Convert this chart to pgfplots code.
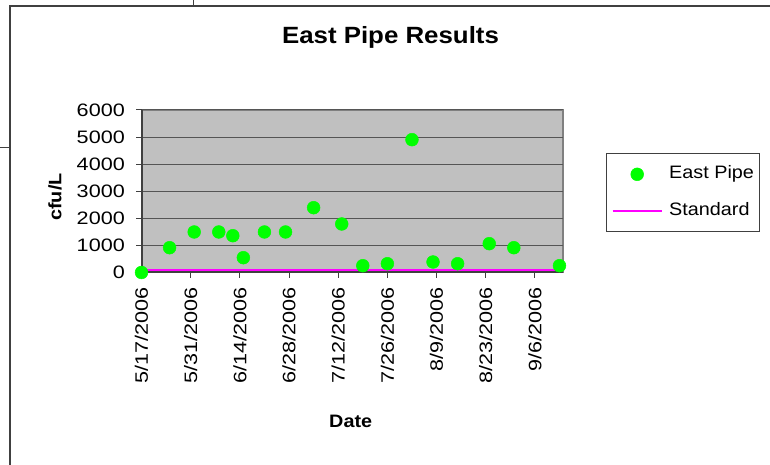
\documentclass[border=0pt]{standalone}
\usepackage{pgfplots}
\pgfplotsset{compat=1.18}
\usepackage{fontspec}
\setmainfont{Liberation Sans}[FakeStretch=1.1]
\newfontfamily\tickfont{Liberation Sans}[FakeStretch=1.2]
\definecolor{plotbg}{HTML}{C0C0C0}
\definecolor{gridc}{HTML}{555555}
\definecolor{axc}{HTML}{404040}
\definecolor{framec}{HTML}{808080}
\definecolor{ptgreen}{HTML}{00FF00}
\definecolor{stdpink}{HTML}{FF00FF}
\pgfplotsset{
  stdleg/.style={legend image code/.code={\draw[##1] (0pt,0pt) -- (49pt,0pt);}},
  ptleg/.style={legend image code/.code={\draw[mark repeat=2,mark phase=2,##1] plot coordinates {(0pt,0pt) (24.5pt,0pt) (49pt,0pt)};}},
}
\pgfplotstableread{
day value
0 0
8 916
15 1496
22 1496
26 1359
29 547
35 1496
41 1496
49 2393
57 1791
63 251
70 325
77 4904
83 388
90 325
99 1064
106 916
119 251
}\eastpipe
\pgfplotstableread{
day value
0 100
120 100
}\standard
\begin{document}
\begin{tikzpicture}[font=\fontsize{18}{21}\selectfont]
\useasboundingbox (0pt,0pt) rectangle (770pt,465pt);
\draw[axc, line width=1.5pt] (10pt,0pt) -- (10pt,459pt) -- (770pt,459pt);
\draw[axc, line width=1pt] (193pt,459pt) -- (193pt,465pt);
\draw[axc, line width=1pt] (0pt,317pt) -- (10pt,317pt);
\node[font=\bfseries\fontsize{23.5}{26}\selectfont] at (390.5pt,428pt) {East Pipe Results};
\node[font=\bfseries\fontsize{18}{21}\selectfont, rotate=90] at (55pt,268pt) {cfu/L};
\node[font=\bfseries\fontsize{18}{21}\selectfont] at (350.7pt,43.3pt) {Date};
\begin{axis}[
  at={(141.5pt,192.5pt)}, anchor=south west,
  width=421.5pt, height=162.5pt, scale only axis,
  xmin=0, xmax=120, ymin=0, ymax=6000,
  clip=false,
  axis background/.style={fill=plotbg, draw=framec, line width=2pt},
  axis x line*=bottom, axis y line*=left,
  axis line style={-, axc, line width=2pt},
  ytick={0,1000,...,6000},
  xtick={0,14,...,112},
  xticklabels={5/17/2006,5/31/2006,6/14/2006,6/28/2006,7/12/2006,7/26/2006,8/9/2006,8/23/2006,9/6/2006},
  scaled y ticks=false,
  /pgf/number format/.cd, 1000 sep={}, assume math mode=true, /pgfplots/.cd,
  tick align=outside, major tick length=5.5pt,
  tick style={axc, line width=1pt},
  xtick pos=bottom, ytick pos=left,
  ymajorgrids, major grid style={gridc, line width=1pt},
  ticklabel style={font=\tickfont\fontsize{18}{21}\selectfont},
  yticklabel style={anchor=east, inner sep=0pt},
  yticklabel shift=11pt,
  xticklabel style={rotate=90, anchor=east, inner sep=0pt},
  xticklabel shift=9pt,
  reverse legend,
  legend style={at={(1.1013,0.7335)}, anchor=north west, draw=axc, line width=1pt, fill=white,
    inner xsep=5.5pt, inner ysep=12pt, row sep=20pt, column sep=6.5pt,
    font=\fontsize{18}{21}\selectfont,
    nodes={inner sep=0pt, text height=13pt, text depth=4pt}},
  legend cell align=left,
]
\addplot[stdpink, line width=2pt, no marks, stdleg] table[x=day,y=value] {\standard};
\addlegendentry{Standard}
\addplot[only marks, mark=*, mark size=6.4pt, ptgreen, mark options={fill=ptgreen, draw=ptgreen, line width=0.5pt}, ptleg] table[x=day,y=value] {\eastpipe};
\addlegendentry{East Pipe}
\end{axis}
\end{tikzpicture}
\end{document}
